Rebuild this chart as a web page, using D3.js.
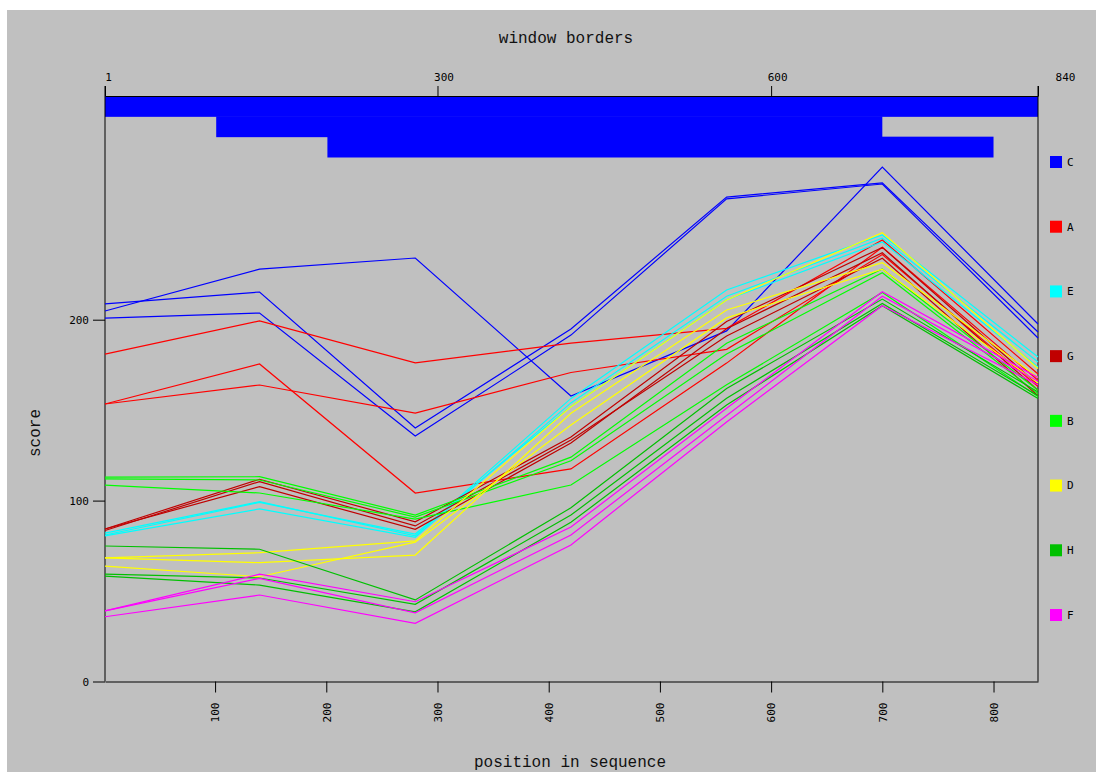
<!DOCTYPE html>
<html>
<head>
<meta charset="utf-8">
<script src="https://cdn.jsdelivr.net/npm/d3@7"></script>
<style>
  body { margin: 0; background: #ffffff; }
  .tick text { font-family: "DejaVu Sans Mono", monospace; font-size: 11px; fill: #000; }
  .title { font-family: "Liberation Mono", monospace; font-size: 16px; fill: #111; }
  .legend text { font-family: "DejaVu Sans Mono", monospace; font-size: 11px; fill: #000; }
</style>
</head>
<body>
<svg id="chart"></svg>
<script>
// x positions of the sliding window centres
const positions = [1, 140, 280, 420, 560, 700, 840];

const groups = ["C", "A", "E", "G", "B", "D", "H", "F"];
const groupColors = ["#0000ff", "#ff0000", "#00ffff", "#c00000", "#00ff00", "#ffff00", "#00c000", "#ff00ff"];

// window borders shown on top
const windowStarts = [1, 101, 201];
const windowEnds = [840, 700, 800];

const topTicks = [1, 300, 600, 840];
const bottomTicks = [100, 200, 300, 400, 500, 600, 700, 800];
const scoreTicks = [0, 100, 200];

// scores per group, three lines each
const scoresC = [
  [204.8, 228.0, 234.1, 157.8, 193.8, 284.4, 197.6],
  [208.7, 215.3, 140.1, 194.9, 267.8, 275.6, 193.2],
  [200.9, 203.7, 135.7, 191.5, 266.8, 275.0, 189.9]
];
const scoresA = [
  [181.0, 199.3, 176.1, 187.0, 195.2, 244.1, 170.0],
  [153.4, 175.5, 104.2, 117.5, 176.0, 240.0, 166.5],
  [153.4, 163.9, 148.4, 170.8, 183.6, 236.0, 163.0]
];
const scoresE = [
  [82.0, 99.4, 80.5, 156.5, 216.4, 246.8, 179.4],
  [80.5, 95.4, 79.7, 154.0, 213.0, 245.0, 176.6],
  [81.0, 99.0, 81.5, 152.0, 211.0, 243.0, 173.9]
];
const scoresG = [
  [84.3, 111.8, 88.3, 135.2, 199.0, 240.0, 164.0],
  [84.3, 107.7, 84.1, 131.8, 195.0, 237.0, 161.0],
  [83.5, 110.5, 86.0, 133.5, 191.0, 234.0, 158.0]
];
const scoresB = [
  [113.0, 113.2, 92.0, 124.0, 187.0, 228.0, 161.0],
  [112.0, 111.4, 90.9, 122.0, 181.0, 226.0, 159.0],
  [108.6, 104.2, 89.8, 108.6, 164.0, 215.0, 157.5]
];
const scoresD = [
  [68.3, 71.2, 77.7, 151.9, 210.9, 248.1, 173.0],
  [68.3, 65.7, 69.9, 148.3, 205.4, 231.5, 168.0],
  [63.8, 57.9, 77.0, 141.8, 201.0, 227.9, 165.0]
];
const scoresH = [
  [74.9, 73.1, 45.1, 96.0, 162.0, 211.4, 160.0],
  [59.4, 57.2, 42.7, 92.0, 156.6, 209.0, 158.0],
  [58.3, 53.3, 38.5, 88.0, 152.8, 207.7, 156.5]
];
const scoresF = [
  [39.0, 59.3, 44.1, 85.4, 151.0, 215.5, 168.0],
  [39.0, 57.0, 38.0, 81.0, 147.0, 213.0, 166.0],
  [35.8, 47.8, 32.2, 75.5, 143.5, 207.7, 164.0]
];
const groupScores = [scoresC, scoresA, scoresE, scoresG, scoresB, scoresD, scoresH, scoresF];

const W = 1103, H = 772;
const left = 105, right = 1038, bottom = 681.5, frameTop = 86;

const svg = d3.select("#chart")
    .attr("width", W)
    .attr("height", H);

svg.append("rect")
    .attr("x", 7).attr("y", 10)
    .attr("width", 1089).attr("height", H - 10)
    .attr("fill", "#c0c0c0");

const x = d3.scaleLinear().domain([1, 840]).range([left, right]);
const y = d3.scaleLinear().domain([0, 200]).range([bottom, 319.7]);
const yWin = d3.scaleBand().domain(d3.range(windowStarts.length)).range([96, 157]);
const yLegend = d3.scaleLinear().domain([0, groups.length - 1]).range([162, 615]);

// window bars
svg.append("g")
    .selectAll("rect")
    .data(windowStarts)
    .join("rect")
    .attr("x", (d, i) => x(d))
    .attr("y", (d, i) => yWin(i))
    .attr("width", (d, i) => x(windowEnds[i]) - x(d))
    .attr("height", yWin.bandwidth() + 0.5)
    .attr("fill", "#0000ff");

// frame lines
svg.append("line")
    .attr("x1", left).attr("x2", left)
    .attr("y1", frameTop).attr("y2", bottom)
    .attr("stroke", "#000");
svg.append("line")
    .attr("x1", right).attr("x2", right)
    .attr("y1", frameTop).attr("y2", bottom)
    .attr("stroke", "#000");

// top axis (window borders)
const topAxis = svg.append("g")
    .attr("transform", "translate(0,96)")
    .call(d3.axisTop(x).tickValues(topTicks).tickSize(10).tickSizeOuter(0).tickPadding(5));
topAxis.selectAll("text")
    .attr("dx", d => d === 840 ? 27 : (d === 1 ? 3 : 6));

// left axis
const leftAxis = svg.append("g")
    .attr("transform", `translate(${left},0)`)
    .call(d3.axisLeft(y).tickValues(scoreTicks).tickSize(12).tickPadding(4));
leftAxis.select(".domain").remove();

// bottom axis
const bottomAxis = svg.append("g")
    .attr("transform", `translate(0,${bottom})`)
    .call(d3.axisBottom(x).tickValues(bottomTicks).tickSize(11).tickSizeOuter(0));
bottomAxis.selectAll("text")
    .attr("transform", "translate(0,21) rotate(-90)")
    .attr("text-anchor", "end")
    .attr("x", 0).attr("y", 0)
    .attr("dy", "0.35em");

svg.selectAll(".domain, .tick line").attr("stroke", "#000");

// titles
svg.append("text").attr("class", "title")
    .attr("x", 566).attr("y", 43)
    .attr("text-anchor", "middle")
    .text("window borders");
svg.append("text").attr("class", "title")
    .attr("x", 570).attr("y", 767)
    .attr("text-anchor", "middle")
    .text("position in sequence");
svg.append("text").attr("class", "title")
    .attr("transform", "translate(40,433) rotate(-90)")
    .attr("text-anchor", "middle")
    .text("score");

// score lines
const line = d3.line()
    .x((d, i) => x(positions[i]))
    .y(d => y(d));

groupScores.forEach((set, g) => {
  svg.append("g")
      .selectAll("path")
      .data(set)
      .join("path")
      .attr("d", line)
      .attr("fill", "none")
      .attr("stroke", groupColors[g])
      .attr("stroke-width", 1.2);
});

// legend
const legend = svg.append("g").attr("class", "legend")
    .selectAll("g")
    .data(groups)
    .join("g")
    .attr("transform", (d, i) => `translate(1050,${yLegend(i)})`);
legend.append("rect")
    .attr("x", 0).attr("y", -6)
    .attr("width", 12).attr("height", 12)
    .attr("fill", (d, i) => groupColors[i]);
legend.append("text")
    .attr("x", 17).attr("y", 0)
    .attr("dy", "0.35em")
    .text(d => d);
</script>
</body>
</html>
